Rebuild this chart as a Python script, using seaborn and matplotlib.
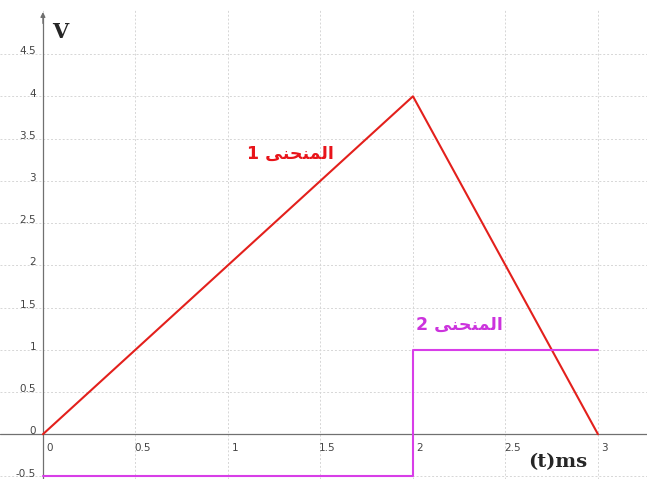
import matplotlib.pyplot as plt
import matplotlib.transforms as mtransforms
import seaborn as sns
import pandas as pd

# curve 1 (red triangle) and curve 2 (magenta step)
t1 = [0, 2, 3]
v1 = [0, 4, 0]
t2 = [0, 2, 2, 3]
v2 = [-0.5, -0.5, 1, 1]
xticks = [0, 0.5, 1, 1.5, 2, 2.5, 3]
yticks = [-0.5, 0, 0.5, 1, 1.5, 2, 2.5, 3, 3.5, 4, 4.5]

# arabic label "المنحنى" in presentation forms, visual order
word = '\uFEF0\uFEE8\uFEA4\uFEE8\uFEE4\uFEDF\uFE8D'
label1 = '1 ' + word
label2 = '2 ' + word

sns.set_style('white')
plt.rcParams['font.family'] = ['DejaVu Sans']

fig = plt.figure(figsize=(6.47, 4.79), dpi=100)
ax = fig.add_axes([0, 0, 1, 1])

df1 = pd.DataFrame({'t': t1, 'v': v1})
df2 = pd.DataFrame({'t': t2, 'v': v2})
sns.lineplot(data=df1, x='t', y='v', sort=False, estimator=None, color='#e3201c', lw=1.5, ax=ax)
sns.lineplot(data=df2, x='t', y='v', sort=False, estimator=None, color='#d83ee8', lw=1.5, ax=ax)

ax.set_xlim(-0.232, 3.265)
ax.set_ylim(-0.53, 5.14)
top = 5.03

# grid
ax.vlines(xticks, -0.53, top, color='#d6d6d6', lw=0.7, ls=(0, (2, 2)), zorder=0)
ax.hlines(yticks, -0.232, 3.265, color='#d6d6d6', lw=0.7, ls=(0, (2, 2)), zorder=0)

# axes through origin
ax.axhline(0, color='#707070', lw=0.9, zorder=1)
ax.vlines([0], -0.53, top - 0.05, color='#707070', lw=0.9, zorder=1)
ax.annotate('', xy=(0, top), xytext=(0, top - 0.2),
            arrowprops=dict(arrowstyle='-|>', color='#707070', lw=0.9, mutation_scale=7))

ax.set_xticks([])
ax.set_yticks([])
ax.set_xlabel('')
ax.set_ylabel('')
for s in ax.spines.values():
    s.set_visible(False)

off_x = mtransforms.offset_copy(ax.transData, fig=fig, x=5, y=-10, units='points')
for x in xticks:
    ax.text(x, 0, ('%g' % x), transform=off_x, ha='center', va='center', fontsize=7.5, color='#444444')
off_y = mtransforms.offset_copy(ax.transData, fig=fig, x=-5, y=2, units='points')
for y in yticks:
    ax.text(0, y, ('%g' % y), transform=off_y, ha='right', va='center', fontsize=7.5, color='#444444')

ax.text(0.05, 4.76, 'V', fontsize=15, fontweight='bold', family='DejaVu Serif', ha='left', va='center')
ax.text(2.62, -0.33, '(t)ms', fontsize=14, fontweight='bold', family='DejaVu Serif', ha='left', va='center')

ax.text(1.34, 3.32, label1, color='#e8141a', fontsize=12.5, fontweight='bold', ha='center', va='center')
ax.text(2.25, 1.3, label2, color='#cc33dd', fontsize=12.5, fontweight='bold', ha='center', va='center')

fig.savefig('out.png', dpi=100)
